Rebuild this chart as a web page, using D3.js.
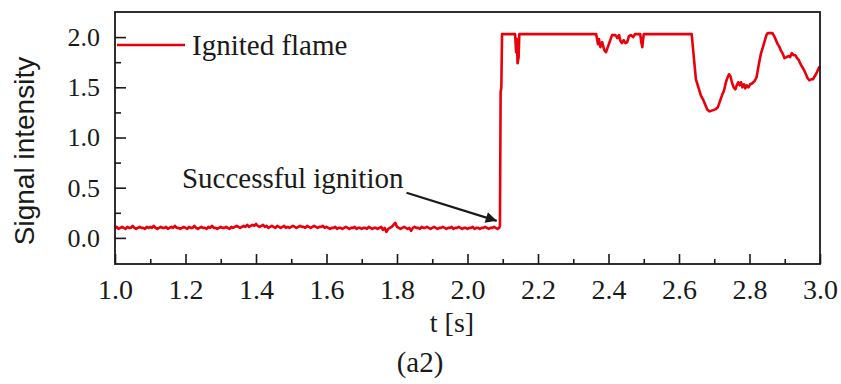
<!DOCTYPE html>
<html>
<head>
<meta charset="utf-8">
<script src="https://cdn.jsdelivr.net/npm/d3@7"></script>
<style>
  body { margin: 0; background: #fff; }
  svg { display: block; }
</style>
</head>
<body>
<svg id="chart" width="841" height="384"></svg>
<script>
// baseline before ignition, sampled every 0.005 s from t = 1.000
var baseStart = 1.0, baseStep = 0.005;
var baseline = [
  0.10,0.11,0.09,0.10,0.11,0.10,0.09,0.11,0.10,0.10,0.12,0.10,0.09,0.10,0.11,0.10,0.10,0.09,0.11,0.10,
  0.11,0.10,0.12,0.10,0.09,0.10,0.11,0.10,0.10,0.11,0.09,0.10,0.11,0.10,0.12,0.10,0.10,0.09,0.10,0.11,
  0.10,0.09,0.11,0.10,0.10,0.12,0.10,0.09,0.10,0.11,0.10,0.10,0.09,0.11,0.10,0.12,0.10,0.10,0.09,0.10,
  0.11,0.10,0.10,0.11,0.10,0.09,0.11,0.10,0.11,0.12,0.11,0.10,0.11,0.12,0.11,0.13,0.11,0.12,0.13,0.12,
  0.14,0.12,0.11,0.12,0.13,0.11,0.12,0.10,0.11,0.12,0.11,0.10,0.12,0.11,0.10,0.11,0.12,0.10,0.11,0.10,
  0.11,0.12,0.11,0.10,0.11,0.12,0.11,0.11,0.10,0.12,0.11,0.10,0.11,0.12,0.11,0.10,0.11,0.11,0.12,0.10,
  0.11,0.10,0.09,0.10,0.10,0.11,0.09,0.10,0.10,0.09,0.10,0.11,0.10,0.09,0.10,0.10,0.11,0.09,0.10,0.10,
  0.09,0.10,0.10,0.09,0.11,0.10,0.09,0.10,0.10,0.09,0.10,0.11,0.08,0.10,0.06,0.09,0.10,0.11,0.13,0.15,
  0.11,0.10,0.09,0.10,0.11,0.10,0.09,0.10,0.07,0.10,0.11,0.10,0.10,0.09,0.11,0.10,0.10,0.11,0.10,0.09,
  0.10,0.11,0.10,0.09,0.10,0.10,0.11,0.10,0.09,0.10,0.10,0.11,0.09,0.10,0.10,0.11,0.10,0.09,0.10,0.10,
  0.09,0.10,0.10,0.11,0.09,0.10,0.10,0.09,0.10,0.10,0.11,0.10,0.09,0.10,0.10,0.11,0.10,0.09,0.10
];

// after ignition: [t, signal]
var flame = [
  [2.092,0.12],[2.094,1.45],[2.096,1.50],[2.098,2.03],[2.135,2.03],[2.138,1.85],[2.140,1.98],
  [2.142,1.74],[2.145,1.80],[2.147,2.03],[2.365,2.03],[2.370,1.93],[2.373,1.98],[2.377,1.90],
  [2.382,1.95],[2.388,1.87],[2.393,1.85],[2.398,1.90],[2.405,1.97],[2.410,2.02],[2.420,2.02],
  [2.425,1.99],[2.430,2.02],[2.434,1.96],[2.438,1.94],[2.443,1.97],[2.448,1.94],[2.453,1.95],
  [2.458,2.01],[2.463,2.02],[2.470,2.00],[2.475,2.03],[2.490,2.03],[2.493,1.95],[2.496,1.90],
  [2.498,1.97],[2.500,2.03],[2.636,2.03],[2.642,1.80],[2.648,1.58],[2.655,1.50],[2.662,1.42],
  [2.668,1.38],[2.674,1.33],[2.680,1.28],[2.687,1.26],[2.695,1.27],[2.703,1.28],[2.710,1.30],
  [2.716,1.36],[2.722,1.42],[2.728,1.47],[2.733,1.55],[2.738,1.60],[2.742,1.63],[2.746,1.61],
  [2.750,1.55],[2.755,1.50],[2.760,1.48],[2.764,1.52],[2.768,1.55],[2.772,1.52],[2.776,1.55],
  [2.780,1.50],[2.784,1.53],[2.788,1.49],[2.792,1.52],[2.797,1.50],[2.802,1.53],[2.808,1.54],
  [2.814,1.56],[2.820,1.60],[2.826,1.72],[2.832,1.83],[2.838,1.90],[2.843,1.96],[2.848,2.02],
  [2.852,2.04],[2.865,2.04],[2.870,2.01],[2.875,1.97],[2.880,1.93],[2.885,1.90],[2.890,1.86],
  [2.895,1.83],[2.899,1.79],[2.905,1.80],[2.910,1.81],[2.915,1.80],[2.920,1.84],[2.925,1.82],
  [2.930,1.82],[2.935,1.79],[2.940,1.77],[2.945,1.73],[2.950,1.70],[2.955,1.67],[2.960,1.63],
  [2.965,1.59],[2.970,1.57],[2.975,1.58],[2.980,1.58],[2.985,1.61],[2.990,1.64],[2.995,1.68],
  [2.999,1.71]
];

var xTicks = [1.0, 1.2, 1.4, 1.6, 1.8, 2.0, 2.2, 2.4, 2.6, 2.8, 3.0];
var xMinor = [1.1, 1.3, 1.5, 1.7, 1.9, 2.1, 2.3, 2.5, 2.7, 2.9];
var yTicks = [0.0, 0.5, 1.0, 1.5, 2.0];
var yMinor = [0.25, 0.75, 1.25, 1.75];

var seriesName = 'Ignited flame';
var note = { text: 'Successful ignition', t: 1.19, v: 0.50, from: [1.827, 0.45], to: [2.083, 0.17] };

var svg = d3.select('#chart'),
  plotLeft = 115, plotRight = 820, plotTop = 12, plotBottom = 264;

var xScale = d3.scaleLinear().domain([1, 3]).range([plotLeft, plotRight]),
  yScale = d3.scaleLinear().domain([-0.26, 2.25]).range([plotBottom, plotTop]);

var serif = 'Liberation Serif, Times New Roman, serif';
var ink = '#1a1a1a';
var red = '#e8000b';

var points = baseline.map(function (v, i) { return [baseStart + i * baseStep, v]; }).concat(flame);

// signal line
var line = d3.line()
  .x(function (d) { return xScale(d[0]); })
  .y(function (d) { return yScale(d[1]); });

svg.append('path')
  .datum(points)
  .attr('d', line)
  .attr('fill', 'none')
  .attr('stroke', red)
  .attr('stroke-width', 2.6)
  .attr('stroke-linejoin', 'round');

// axes, ticks pointing inside the frame
var xAxis = svg.append('g')
  .attr('transform', 'translate(0,' + plotBottom + ')')
  .call(d3.axisBottom(xScale).tickValues(xTicks).tickSize(-10).tickPadding(15).tickFormat(d3.format('.1f')));
xAxis.selectAll('text').style('font-family', serif).style('font-size', '28px').attr('fill', ink);

svg.append('g')
  .attr('transform', 'translate(0,' + plotBottom + ')')
  .call(d3.axisBottom(xScale).tickValues(xMinor).tickSize(-5).tickFormat(''));

var yAxis = svg.append('g')
  .attr('transform', 'translate(' + plotLeft + ',0)')
  .call(d3.axisLeft(yScale).tickValues(yTicks).tickSize(-11).tickPadding(15).tickFormat(d3.format('.1f')));
yAxis.selectAll('text').style('font-family', serif).style('font-size', '26px').attr('fill', ink);

svg.append('g')
  .attr('transform', 'translate(' + plotLeft + ',0)')
  .call(d3.axisLeft(yScale).tickValues(yMinor).tickSize(-6).tickFormat(''));

svg.selectAll('.domain').remove();
svg.selectAll('.tick line').attr('stroke', ink).attr('stroke-width', 1.6);

// frame
svg.append('rect')
  .attr('x', plotLeft).attr('y', plotTop)
  .attr('width', plotRight - plotLeft).attr('height', plotBottom - plotTop)
  .attr('fill', 'none')
  .attr('stroke', ink)
  .attr('stroke-width', 1.8);

// legend
svg.append('line')
  .attr('x1', plotLeft + 2).attr('x2', plotLeft + 70)
  .attr('y1', 45).attr('y2', 45)
  .attr('stroke', red).attr('stroke-width', 2.6);
svg.append('text')
  .attr('x', plotLeft + 77).attr('y', 45).attr('dy', '0.35em')
  .style('font-family', serif).style('font-size', '29px')
  .attr('fill', ink)
  .text(seriesName);

// annotation
svg.append('defs').append('marker')
  .attr('id', 'head')
  .attr('viewBox', '0 0 10 10')
  .attr('refX', 10).attr('refY', 5)
  .attr('markerWidth', 6).attr('markerHeight', 5)
  .attr('markerUnits', 'strokeWidth')
  .attr('orient', 'auto')
  .append('path').attr('d', 'M0,0L10,5L0,10Z').attr('fill', ink);

svg.append('line')
  .attr('x1', xScale(note.from[0])).attr('y1', yScale(note.from[1]))
  .attr('x2', xScale(note.to[0])).attr('y2', yScale(note.to[1]))
  .attr('stroke', ink).attr('stroke-width', 2.2)
  .attr('marker-end', 'url(#head)');

svg.append('text')
  .attr('x', xScale(note.t)).attr('y', yScale(note.v))
  .style('font-family', serif).style('font-size', '29px')
  .attr('fill', ink)
  .text(note.text);

// axis titles
svg.append('text')
  .attr('x', 452).attr('y', 332)
  .attr('text-anchor', 'middle')
  .style('font-family', serif).style('font-size', '28px')
  .attr('fill', ink)
  .text('t [s]');

svg.append('text')
  .attr('text-anchor', 'middle')
  .attr('transform', 'translate(34,151)rotate(-90)')
  .style('font-family', 'Liberation Sans, Arial, sans-serif')
  .style('font-size', '28px')
  .attr('fill', ink)
  .text('Signal intensity');

svg.append('text')
  .attr('x', 420).attr('y', 372)
  .attr('text-anchor', 'middle')
  .style('font-family', serif).style('font-size', '29px')
  .attr('fill', ink)
  .text('(a2)');
</script>
</body>
</html>
